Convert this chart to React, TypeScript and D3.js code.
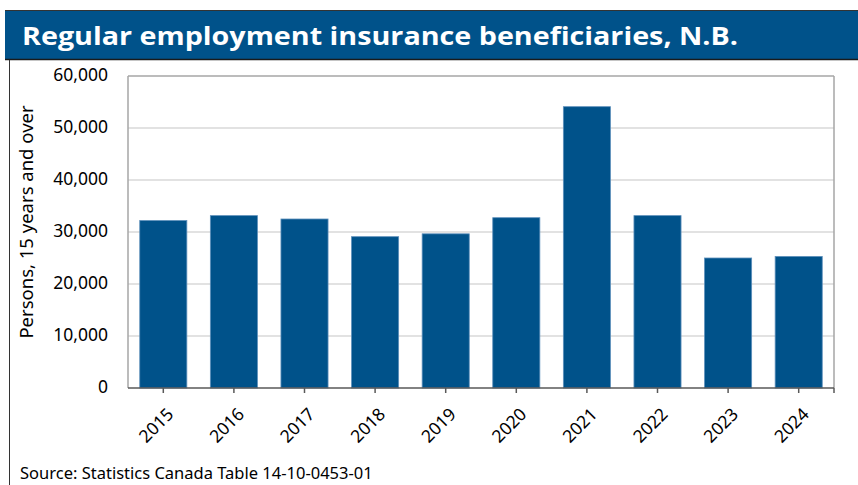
import React from "react";
import * as d3 from "d3";

const years = ["2015", "2016", "2017", "2018", "2019", "2020", "2021", "2022", "2023", "2024"];
const beneficiaries = [32200, 33150, 32500, 29100, 29650, 32750, 54100, 33150, 25000, 25300];
const yTicks = [0, 10000, 20000, 30000, 40000, 50000, 60000];

const W = 858;
const H = 485;
const margin = { left: 128, right: 834, top: 76, bottom: 388 };
const BLUE = "#00528a";

export default function App() {
  const x = d3.scaleBand<string>().domain(years).range([margin.left, margin.right]).paddingInner(0.333).paddingOuter(0.1665);
  const xc = d3.scaleBand<string>().domain(years).range([margin.left, margin.right]);
  const y = d3.scaleLinear().domain([0, 60000]).range([margin.bottom, margin.top]);
  const fmt = d3.format(",");
  const font = "'Noto Sans', 'Open Sans', sans-serif";

  return (
    <svg width={W} height={H} style={{ position: "absolute", left: 0, top: 0, background: "#fff" }}>
      {/* title bar */}
      <rect x={5} y={10} width={W} height={49} fill={BLUE} />
      <line x1={5} x2={W} y1={10.5} y2={10.5} stroke="#333" strokeWidth={1} />
      <line x1={5} x2={W} y1={59.5} y2={59.5} stroke="#1a1a1a" strokeWidth={1.5} />
      <text x={22} y={45} fill="#fff" fontFamily="'Open Sans', sans-serif" fontWeight={700} fontSize={25} textLength={716} lengthAdjust="spacingAndGlyphs">
        Regular employment insurance beneficiaries, N.B.
      </text>
      {/* frame left border */}
      <line x1={9.5} x2={9.5} y1={60} y2={H} stroke="#333" strokeWidth={1} />

      {/* gridlines */}
      {yTicks.slice(1, -1).map((t) => (
        <line key={t} x1={margin.left} x2={margin.right} y1={y(t)} y2={y(t)} stroke="#d9d9d9" strokeWidth={1.5} />
      ))}
      {/* plot border */}
      <line x1={margin.left} x2={margin.right} y1={margin.top} y2={margin.top} stroke="#a6a6a6" strokeWidth={1.5} />
      <line x1={margin.right} x2={margin.right} y1={margin.top} y2={margin.bottom} stroke="#a6a6a6" strokeWidth={1.5} />
      <line x1={margin.left} x2={margin.left} y1={margin.top} y2={margin.bottom} stroke="#a6a6a6" strokeWidth={1.5} />

      {/* bars */}
      {years.map((yr, i) => (
        <rect key={yr} x={x(yr)} y={y(beneficiaries[i])} width={x.bandwidth()} height={y(0) - y(beneficiaries[i])} fill={BLUE} stroke="#5d8fbb" strokeWidth={0.8} />
      ))}

      {/* x axis */}
      <line x1={margin.left} x2={margin.right} y1={margin.bottom} y2={margin.bottom} stroke="#595959" strokeWidth={1.5} />
      {years.map((yr) => {
        const cx = (xc(yr) as number) + xc.bandwidth() / 2;
        return <line key={"t" + yr} x1={cx} x2={cx} y1={margin.bottom} y2={margin.bottom + 5} stroke="#595959" strokeWidth={1.5} />;
      })}
      <line x1={margin.right} x2={margin.right} y1={margin.bottom} y2={margin.bottom + 5} stroke="#595959" strokeWidth={1.5} />
      {years.map((yr) => {
        const cx = (xc(yr) as number) + xc.bandwidth() / 2;
        return (
          <text key={"l" + yr} transform={`translate(${cx + 8},${margin.bottom + 24}) rotate(-45)`} textAnchor="end" dominantBaseline="middle" fontFamily={font} fontSize={17.5} fill="#000">
            {yr}
          </text>
        );
      })}

      {/* y axis labels */}
      {yTicks.map((t) => (
        <text key={"y" + t} x={108} y={y(t)} textAnchor="end" dominantBaseline="middle" fontFamily={font} fontSize={17.5} fill="#000">
          {fmt(t)}
        </text>
      ))}
      <text transform={`translate(28,${(margin.top + margin.bottom) / 2 - 10}) rotate(-90)`} textAnchor="middle" dominantBaseline="middle" fontFamily={font} fontSize={18.5} fill="#000">
        Persons, 15 years and over
      </text>

      {/* source */}
      <text x={20} y={479} fontFamily={font} fontSize={16.5} fill="#000">
        Source: Statistics Canada Table 14-10-0453-01
      </text>
    </svg>
  );
}
